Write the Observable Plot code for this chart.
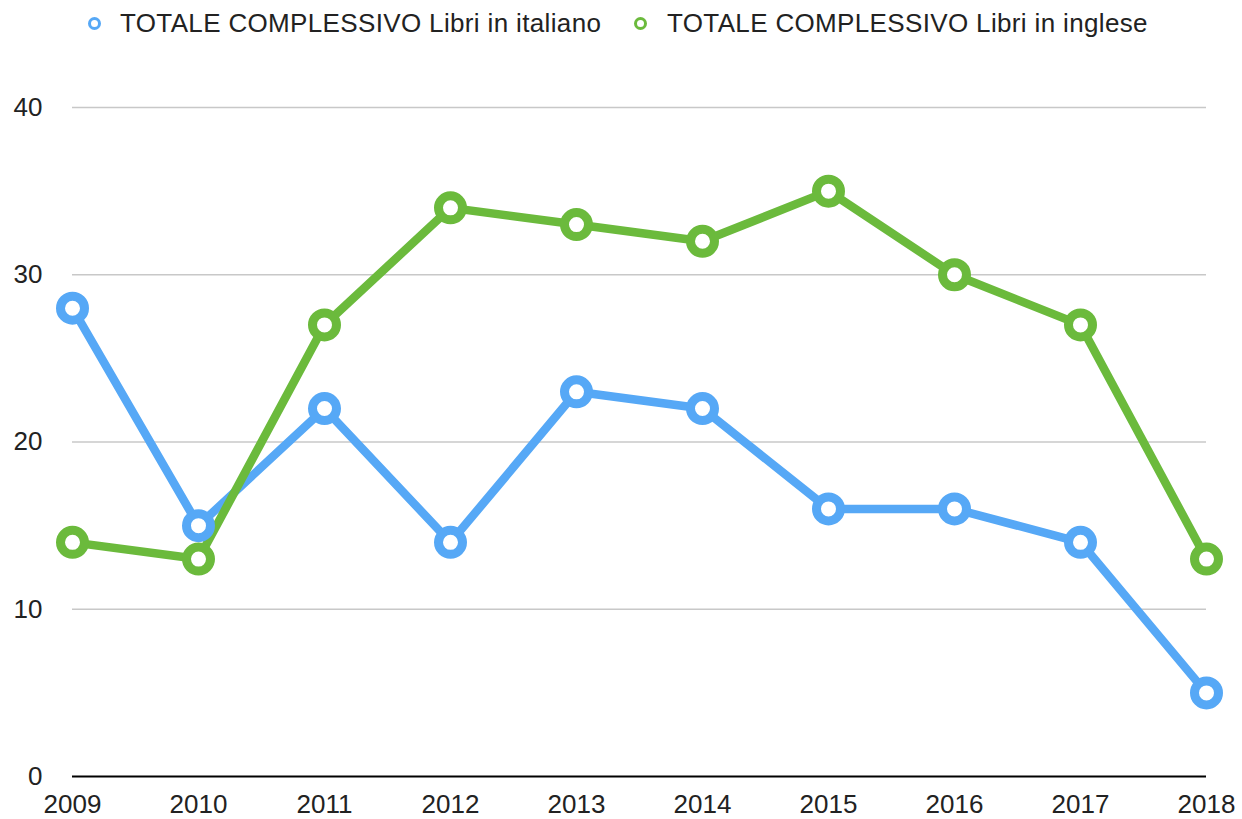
<!DOCTYPE html>
<html>
<head>
<meta charset="utf-8">
<script src="https://cdn.jsdelivr.net/npm/d3@7"></script>
<script src="https://cdn.jsdelivr.net/npm/@observablehq/plot@0.6"></script>
<style>
  html, body { margin: 0; padding: 0; background: #fff; }
  body { width: 1242px; height: 819px; overflow: hidden; font-family: Helvetica, Arial, "Liberation Sans", sans-serif; }
  #legend { position: relative; height: 50px; }
  .mk { position: absolute; top: 17px; width: 7px; height: 7px; border-radius: 50%; border: 3.5px solid; background: #fff; }
  .lt { position: absolute; top: 8px; font-size: 26px; color: #222; white-space: nowrap; line-height: 30px; letter-spacing: 0.35px; }
</style>
</head>
<body>
<div id="legend"></div>
<div id="chart"></div>
<script>
const years = ["2009","2010","2011","2012","2013","2014","2015","2016","2017","2018"];
const seriesNames = ["TOTALE COMPLESSIVO Libri in italiano", "TOTALE COMPLESSIVO Libri in inglese"];
const italiano = [28, 15, 22, 14, 23, 22, 16, 16, 14, 5];
const inglese = [14, 13, 27, 34, 33, 32, 35, 30, 27, 13];
const colors = ["#56a8f6", "#6bba3c"];
const yTicks = [0, 10, 20, 30, 40];

const data = [];
years.forEach((y, i) => {
  data.push({year: y, value: italiano[i], series: seriesNames[0]});
  data.push({year: y, value: inglese[i], series: seriesNames[1]});
});

// legend
const legend = document.getElementById("legend");
const legendPos = [[88, 120], [634, 667]];
seriesNames.forEach((name, i) => {
  const m = document.createElement("div");
  m.className = "mk";
  m.style.left = legendPos[i][0] + "px";
  m.style.borderColor = colors[i];
  legend.appendChild(m);
  const t = document.createElement("div");
  t.className = "lt";
  t.style.left = legendPos[i][1] + "px";
  t.textContent = name;
  legend.appendChild(t);
});

const chart = Plot.plot({
  width: 1242,
  height: 769,
  marginLeft: 72,
  marginRight: 36,
  marginTop: 57,
  marginBottom: 43,
  style: {fontFamily: "Helvetica, Arial, 'Liberation Sans', sans-serif", fontSize: "26px", color: "#222", background: "#fff"},
  x: {type: "point", domain: years, padding: 0, label: null},
  y: {domain: [0, 40], ticks: yTicks, label: null},
  color: {domain: seriesNames, range: colors},
  marks: [
    Plot.gridY(yTicks.filter(d => d > 0), {stroke: "#c8c8c8", strokeOpacity: 1, strokeWidth: 1.5}),
    Plot.ruleY([0], {stroke: "#000", strokeWidth: 2}),
    Plot.axisY({ticks: yTicks, tickSize: 0, tickPadding: 30, fontSize: 26}),
    Plot.axisX({tickSize: 0, tickPadding: 18, fontSize: 26}),
    Plot.line(data, {x: "year", y: "value", z: "series", stroke: "series", strokeWidth: 8.5, strokeLinejoin: "round", strokeLinecap: "round"}),
    Plot.dot(data, {x: "year", y: "value", stroke: "series", fill: "#fff", r: 12, strokeWidth: 9})
  ]
});
document.getElementById("chart").appendChild(chart);
</script>
</body>
</html>
